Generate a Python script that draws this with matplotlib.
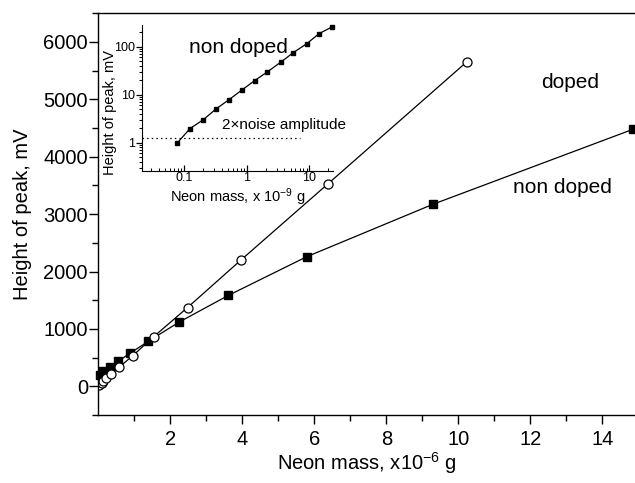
import matplotlib
matplotlib.use('Agg')
import matplotlib.pyplot as plt
import numpy as np

plt.rcParams['font.family'] = ['Liberation Sans', 'DejaVu Sans']
plt.rcParams['mathtext.default'] = 'regular'

# main plot data, x in 1e-6 g, y in mV
nondoped_mass = [0.05, 0.14, 0.33, 0.55, 0.88, 1.39, 2.24, 3.61, 5.79, 9.31, 14.86]
nondoped_height = [205, 275, 345, 435, 575, 785, 1117, 1583, 2258, 3175, 4480]
doped_mass = [0.02, 0.09, 0.14, 0.21, 0.35, 0.58, 0.96, 1.54, 2.48, 3.96, 6.38, 10.23]
doped_height = [15, 60, 100, 146, 210, 332, 536, 865, 1373, 2199, 3528, 5650]

# inset data, x in 1e-9 g
inset_mass = [0.078, 0.124, 0.203, 0.324, 0.515, 0.832, 1.34, 2.13, 3.49, 5.55, 9.08, 14.4, 23.0]
inset_height = [0.99, 1.96, 3.01, 5.04, 7.76, 12.4, 19.6, 29.7, 47.3, 75, 115, 187, 257]
noise_level = 1.27

fig = plt.figure(figsize=(6.35, 4.83), dpi=100)
ax = fig.add_axes([0.1548, 0.1408, 1 - 0.1548, 0.9725 - 0.1408])

ax.plot(nondoped_mass, nondoped_height, color='black', lw=0.9, marker='s',
        markersize=6, markerfacecolor='black', markeredgecolor='black', clip_on=False)
ax.plot(doped_mass, doped_height, color='black', lw=0.9, marker='o',
        markersize=6.5, markerfacecolor='white', markeredgecolor='black', markeredgewidth=0.9)

ax.set_xlim(0, 14.91)
ax.set_ylim(-500, 6500)
ax.set_xticks([2, 4, 6, 8, 10, 12, 14])
ax.set_xticks([1, 3, 5, 7, 9, 11, 13], minor=True)
ax.set_yticks([0, 1000, 2000, 3000, 4000, 5000, 6000])
ax.set_yticks([-500, 500, 1500, 2500, 3500, 4500, 5500, 6500], minor=True)
ax.tick_params(which='major', direction='out', length=6.5, width=1.0, labelsize=14.5)
ax.tick_params(axis='y', which='major', pad=1)
ax.tick_params(axis='x', which='major', pad=4)
ax.tick_params(which='minor', direction='out', length=4, width=1.0)
ax.spines['right'].set_visible(False)
for s in ['left', 'bottom', 'top']:
    ax.spines[s].set_linewidth(1.0)

ax.set_xlabel('Neon mass, x10$^{-6}$ g', fontsize=14.5, labelpad=1)
ax.set_ylabel('Height of peak, mV', fontsize=14.5, labelpad=8)

ax.text(13.1, 5300, 'doped', fontsize=15, ha='center', va='center')
ax.text(12.9, 3464, 'non doped', fontsize=15, ha='center', va='center')

# inset
ins = fig.add_axes([141.7 / 635, 1 - 170.7 / 483, 190.9 / 635, 145.8 / 483])
ins.set_xscale('log')
ins.set_yscale('log')
ins.plot(inset_mass, inset_height, color='black', lw=0.9, marker='s', markersize=2.6, clip_on=False)
ins.plot([0.021, 7.1], [noise_level, noise_level], color='black', lw=0.9, linestyle=(0, (1.2, 2.5)))
ins.set_xlim(0.021, 23.5)
ins.set_ylim(0.26, 283)
ins.set_xticks([0.1, 1, 10])
ins.set_xticklabels(['0.1', '1', '10'])
ins.set_yticks([1, 10, 100])
ins.set_yticklabels(['1', '10', '100'])
ins.tick_params(axis='x', which='both', direction='in')
ins.tick_params(axis='y', which='both', direction='out')
ins.tick_params(which='major', length=4, width=0.9, labelsize=9, pad=1)
ins.tick_params(which='minor', length=2.5, width=0.7)
ins.spines['top'].set_visible(False)
ins.spines['right'].set_visible(False)
ins.set_facecolor('none')

ins.set_xlabel('Neon mass, x 10$^{-9}$ g', fontsize=10.5)
ins.xaxis.set_label_coords(0.50, -0.11)
ins.set_ylabel('Height of peak, mV', fontsize=10.5)
ins.yaxis.set_label_coords(-0.13, 0.40)

ins.text(0.75, 94, 'non doped', fontsize=15, ha='center', va='center')
ins.text(0.40, 2.34, '2\u00d7noise amplitude', fontsize=11, ha='left', va='center')

fig.savefig('out.png', dpi=100)
